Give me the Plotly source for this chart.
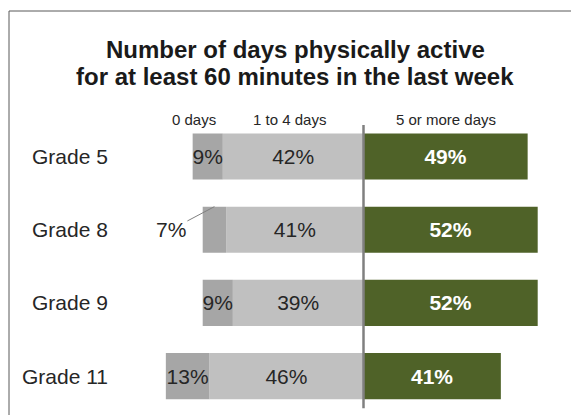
import plotly.graph_objects as go

grades = ["Grade 5", "Grade 8", "Grade 9", "Grade 11"]
zero_days = [9, 7, 9, 13]
one_to_four = [42, 41, 39, 46]
five_plus = [49, 52, 52, 41]
headers = ["0 days", "1 to 4 days", "5 or more days"]
title_lines = ["Number of days physically active", "for at least 60 minutes in the last week"]

FONT = "Arial, Liberation Sans, sans-serif"
DARK = "#262626"
W, H = 571, 415

fig = go.Figure()

# 1 to 4 days (left of centre)
fig.add_trace(go.Bar(
    y=grades, x=[-v for v in one_to_four], orientation="h",
    marker=dict(color="#c0c0c0", line=dict(width=0)),
    text=[f"{v}%" for v in one_to_four],
    textposition="inside", insidetextanchor="middle", textangle=0,
    constraintext="none",
    textfont=dict(family=FONT, size=21, color=DARK),
    width=0.63, hoverinfo="skip", name=headers[1],
))
# 0 days (further left)
fig.add_trace(go.Bar(
    y=grades, x=[-v for v in zero_days], orientation="h",
    marker=dict(color="#a6a6a6", line=dict(width=0)),
    text=[f"{v}%" if v >= 8 else "" for v in zero_days],
    textposition="inside", insidetextanchor="middle", textangle=0,
    constraintext="none",
    textfont=dict(family=FONT, size=21, color=DARK),
    width=0.63, hoverinfo="skip", name=headers[0],
))
# 5 or more days (right)
fig.add_trace(go.Bar(
    y=grades, x=five_plus, orientation="h",
    marker=dict(color="#4f6228", line=dict(width=0)),
    text=[f"<b>{v}%</b>" for v in five_plus],
    textposition="inside", insidetextanchor="middle", textangle=0,
    constraintext="none",
    textfont=dict(family=FONT, size=21, color="white"),
    width=0.63, hoverinfo="skip", name=headers[2],
))

annotations = []
# title lines
annotations.append(dict(text=f"<b>{title_lines[0]}</b>", x=295 / W, y=1 - 34 / H,
                        xref="paper", yref="paper", showarrow=False,
                        font=dict(family=FONT, size=24, color="#1a1a1a")))
annotations.append(dict(text=f"<b>{title_lines[1]}</b>", x=295 / W, y=1 - 61 / H,
                        xref="paper", yref="paper", showarrow=False,
                        font=dict(family=FONT, size=24, color="#1a1a1a")))
# column headers
for txt, hx in zip(headers, [-50.5, -22, 24.5]):
    annotations.append(dict(text=txt, x=hx, y=-0.5, xref="x", yref="y",
                            showarrow=False,
                            font=dict(family=FONT, size=15, color=DARK)))
# grade labels
for g in grades:
    annotations.append(dict(text=g, x=110 / W, y=g, xref="paper", yref="y",
                            xanchor="right", showarrow=False,
                            font=dict(family=FONT, size=21, color=DARK)))
# outside labels for small segments with a leader line
for i, (g, z, o) in enumerate(zip(grades, zero_days, one_to_four)):
    if z < 8:
        annotations.append(dict(
            text=f"{z}%", x=-(o + z / 2), y=i - 0.315, xref="x", yref="y",
            ax=-(o + z) - 9.5, ay=i, axref="x", ayref="y",
            showarrow=True, arrowhead=0, arrowwidth=1, arrowcolor="#808080",
            standoff=0, startstandoff=0,
            font=dict(family=FONT, size=21, color=DARK)))

shapes = [
    # centre line
    dict(type="line", x0=0, x1=0, y0=-0.43, y1=3.44, xref="x", yref="y",
         line=dict(color="#808080", width=2.5)),
    # frame (left and top)
    dict(type="line", x0=9 / W, x1=9 / W, y0=0, y1=1 - 11 / H, xref="paper", yref="paper",
         line=dict(color="#595959", width=1)),
    dict(type="line", x0=9 / W, x1=1, y0=1 - 11 / H, y1=1 - 11 / H, xref="paper", yref="paper",
         line=dict(color="#595959", width=1)),
]

fig.update_layout(
    width=W, height=H,
    margin=dict(l=0, r=0, t=0, b=0),
    paper_bgcolor="white", plot_bgcolor="white",
    barmode="relative", bargap=0.37,
    showlegend=False,
    xaxis=dict(range=[-363.5 / 3.35, (W - 363.5) / 3.35], visible=False, fixedrange=True),
    yaxis=dict(type="category", categoryorder="array", categoryarray=grades,
               range=[(H - 156.5) / 73.2, -156.5 / 73.2], visible=False, fixedrange=True),
    annotations=annotations, shapes=shapes,
    font=dict(family=FONT),
)

fig.write_html("out.html", config={"displayModeBar": False},
               post_script="document.body.style.margin='0';document.body.style.overflow='hidden';")
